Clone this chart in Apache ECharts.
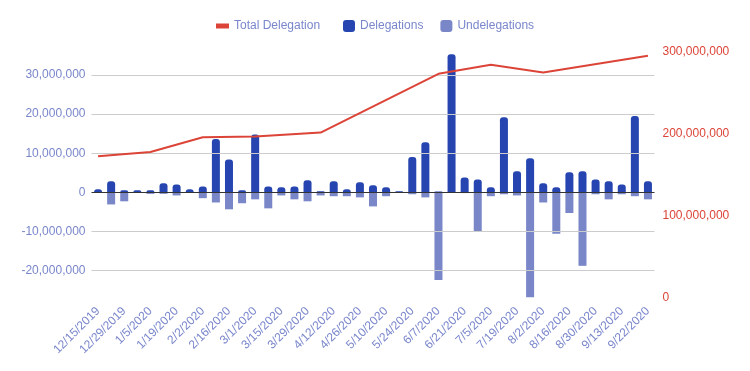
<!DOCTYPE html>
<html>
<head>
<meta charset="utf-8">
<script src="https://cdn.jsdelivr.net/npm/echarts@6/dist/echarts.min.js"></script>
<style>html,body{margin:0;padding:0;background:#fff}#c{width:750px;height:371px}</style>
</head>
<body>
<div id="c"></div>
<script>
var categories = ["12/15/2019","12/22/2019","12/29/2019","1/1/2020","1/5/2020","1/12/2020","1/19/2020","1/26/2020","2/2/2020","2/9/2020","2/16/2020","2/23/2020","3/1/2020","3/8/2020","3/15/2020","3/22/2020","3/29/2020","4/5/2020","4/12/2020","4/19/2020","4/26/2020","5/3/2020","5/10/2020","5/17/2020","5/24/2020","5/31/2020","6/7/2020","6/14/2020","6/21/2020","6/28/2020","7/5/2020","7/12/2020","7/19/2020","7/26/2020","8/2/2020","8/9/2020","8/16/2020","8/23/2020","8/30/2020","9/6/2020","9/13/2020","9/20/2020","9/22/2020"];
var delegations = [0.77e6,2.8e6,0.5e6,0.5e6,0.5e6,2.3e6,2.0e6,0.8e6,1.5e6,13.6e6,8.4e6,0.5e6,14.8e6,1.5e6,1.3e6,1.5e6,3.1e6,0.3e6,2.8e6,0.8e6,2.6e6,1.8e6,1.3e6,0.3e6,9.0e6,12.8e6,0.2e6,35.3e6,3.8e6,3.3e6,1.3e6,19.2e6,5.4e6,8.7e6,2.3e6,1.3e6,5.1e6,5.4e6,3.3e6,2.8e6,2.0e6,19.5e6,2.8e6];
var undelegations = [-0.1e6,-3.1e6,-2.3e6,-0.1e6,-0.4e6,-0.4e6,-0.8e6,-0.1e6,-1.5e6,-2.6e6,-4.35e6,-2.8e6,-1.8e6,-4.1e6,-0.8e6,-1.8e6,-2.3e6,-0.8e6,-1.0e6,-1.0e6,-1.3e6,-3.6e6,-1.0e6,-0.1e6,-0.5e6,-1.3e6,-22.4e6,-0.05e6,-0.2e6,-10.1e6,-1.0e6,-0.5e6,-0.8e6,-27.0e6,-2.6e6,-10.6e6,-5.3e6,-18.8e6,-0.5e6,-1.8e6,-0.5e6,-1.0e6,-1.8e6];
var totalDelegation = [172.6e6,null,null,null,177.8e6,null,null,null,195.8e6,null,null,null,196.8e6,null,null,null,null,201.5e6,null,null,null,null,null,null,null,null,273.3e6,null,null,null,284.3e6,null,null,null,274.9e6,null,null,null,null,null,null,null,295.3e6];
var leftTicks = [-20e6,-10e6,0,10e6,20e6,30e6];
var leftGrid = [-20e6,-10e6,10e6,20e6,30e6];
var rightTicks = [0,100e6,200e6,300e6];

var FONT = 'Arial, "Liberation Sans", sans-serif';
var labelColor = '#7986cb';
var fmt = function(v){ return Number(v).toLocaleString('en-US'); };

var chart = echarts.init(document.getElementById('c'), null, {renderer:'canvas'});
chart.setOption({
  animation: false,
  textStyle: {fontFamily: FONT},
  legend: [
    {data:[{name:'Total Delegation'}], left:211, top:15, itemWidth:13, itemHeight:5, icon:'rect',
     textStyle:{color:labelColor, fontSize:12, fontFamily:FONT}},
    {data:['Delegations','Undelegations'], left:338, top:15, itemWidth:12, itemHeight:12, itemGap:17, icon:'roundRect',
     textStyle:{color:labelColor, fontSize:12, fontFamily:FONT}}
  ],
  grid: {left:91.5, right:95.5, top:52, bottom:73.7, containLabel:false},
  xAxis: {
    type:'category', data:categories, boundaryGap:true,
    axisLine:{show:false}, axisTick:{show:false},
    axisLabel:{interval:1, rotate:45, color:labelColor, fontSize:12, margin:12, fontFamily:FONT}
  },
  yAxis: [
    {type:'value', min:-26.85e6, max:35.88e6, splitLine:{show:false}, axisLine:{show:false}, axisTick:{show:false},
     axisLabel:{customValues:leftTicks, formatter:fmt, color:labelColor, fontSize:12, margin:6, fontFamily:FONT}},
    {type:'value', min:0, max:300e6, interval:100e6, position:'right', splitLine:{show:false}, axisLine:{show:false}, axisTick:{show:false},
     axisLabel:{customValues:rightTicks, formatter:fmt, color:'#db4437', fontSize:12, margin:8, fontFamily:FONT}}
  ],
  series: [
    {name:'grid', type:'line', data:[], z:1, yAxisIndex:0, silent:true,
     markLine:{silent:true, symbol:['none','none'], label:{show:false},
       lineStyle:{color:'#cccccc', width:1, type:'solid'},
       data: leftGrid.map(function(v){return {yAxis:v};})}},
    {name:'Delegations', type:'bar', stack:'d', yAxisIndex:0, data:delegations, barWidth:8, z:2,
     itemStyle:{color:'#2645b0', borderRadius:[3,3,0,0]}},
    {name:'Undelegations', type:'bar', stack:'d', yAxisIndex:0, data:undelegations, barWidth:8, z:2,
     itemStyle:{color:'#7986c8'}},
    {name:'zero', type:'line', data:[], z:4, yAxisIndex:0, silent:true,
     markLine:{silent:true, symbol:['none','none'], label:{show:false},
       lineStyle:{color:'#333333', width:1, type:'solid'},
       data:[{yAxis:0}]}},
    {name:'Total Delegation', type:'line', yAxisIndex:1, data:totalDelegation, connectNulls:true, z:5,
     symbol:'none', showSymbol:false, lineStyle:{color:'#db4437', width:2}, itemStyle:{color:'#db4437'}}
  ]
});
</script>
</body>
</html>
